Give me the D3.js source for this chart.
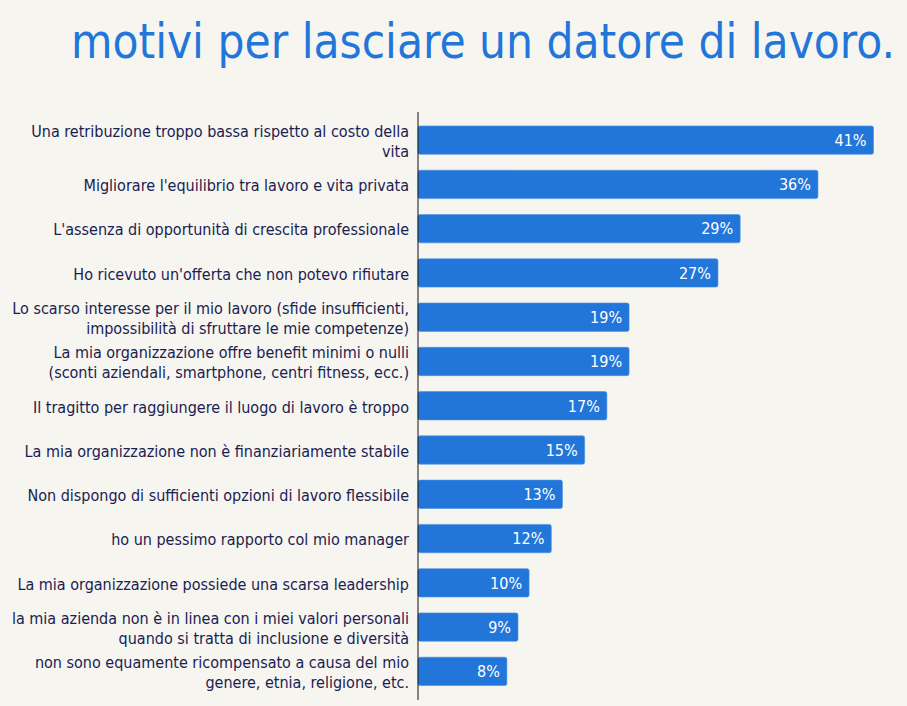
<!DOCTYPE html>
<html>
<head>
<meta charset="utf-8">
<script src="https://cdn.jsdelivr.net/npm/d3@7"></script>
<style>
  html, body { margin: 0; padding: 0; background: #f6f5f0; }
  svg { display: block; }
</style>
</head>
<body>
<div id="chart"></div>
<script>
// categories, top to bottom (line breaks as in the picture)
var categories = [
    "Una retribuzione troppo bassa rispetto al costo della|vita",
    "Migliorare l'equilibrio tra lavoro e vita privata",
    "L'assenza di opportunità di crescita professionale",
    "Ho ricevuto un'offerta che non potevo rifiutare",
    "Lo scarso interesse per il mio lavoro (sfide insufficienti,|impossibilità di sfruttare le mie competenze)",
    "La mia organizzazione offre benefit minimi o nulli|(sconti aziendali, smartphone, centri fitness, ecc.)",
    "Il tragitto per raggiungere il luogo di lavoro è troppo",
    "La mia organizzazione non è finanziariamente stabile",
    "Non dispongo di sufficienti opzioni di lavoro flessibile",
    "ho un pessimo rapporto col mio manager",
    "La mia organizzazione possiede una scarsa leadership",
    "la mia azienda non è in linea con i miei valori personali|quando si tratta di inclusione e diversità",
    "non sono equamente ricompensato a causa del mio|genere, etnia, religione, etc."
];
var values = [41, 36, 29, 27, 19, 19, 17, 15, 13, 12, 10, 9, 8];
var title = "motivi per lasciare un datore di lavoro.";

var width = 907, height = 706;
var barColor = "#2376d9";
var textColor = "#1a2150";
var font = "'DejaVu Sans Condensed', 'DejaVu Sans', sans-serif";

var svg = d3.select("#chart")
    .append("svg")
    .attr("width", width)
    .attr("height", height);

svg.append("rect")
    .attr("width", width)
    .attr("height", height)
    .attr("fill", "#f6f5f0");

// title
svg.append("text")
    .attr("x", 71)
    .attr("y", 58)
    .attr("fill", barColor)
    .attr("font-family", font)
    .attr("font-size", 48)
    .attr("textLength", 824)
    .attr("lengthAdjust", "spacingAndGlyphs")
    .text(title);

var x = d3.scaleLinear()
    .domain([0, 41])
    .range([418, 873.5]);

var y = d3.scaleBand()
    .domain(d3.range(categories.length))
    .range([118, 693.5])
    .paddingInner(0.36)
    .paddingOuter(0.18);

// bars
svg.selectAll("rect.bar")
    .data(values)
    .enter()
    .append("rect")
    .attr("class", "bar")
    .attr("x", x(0))
    .attr("y", function(d, i) { return y(i); })
    .attr("width", function(d) { return x(d) - x(0); })
    .attr("height", y.bandwidth())
    .attr("rx", 2)
    .attr("fill", barColor)
    .attr("stroke", "#4a8fe0")
    .attr("stroke-width", 0.6);

// value labels
svg.selectAll("text.val")
    .data(values)
    .enter()
    .append("text")
    .attr("class", "val")
    .attr("x", function(d) { return x(d) - 7; })
    .attr("y", function(d, i) { return y(i) + y.bandwidth() / 2; })
    .attr("dy", "0.36em")
    .attr("text-anchor", "end")
    .attr("fill", "#ffffff")
    .attr("font-family", font)
    .attr("font-size", 16)
    .text(function(d) { return d + "%"; });

// category labels
var labels = svg.selectAll("text.cat")
    .data(categories)
    .enter()
    .append("text")
    .attr("class", "cat")
    .attr("text-anchor", "end")
    .attr("fill", textColor)
    .attr("font-family", font)
    .attr("font-size", 16)
    .attr("transform", function(d, i) {
        return "translate(409," + (y(i) + y.bandwidth() / 2) + ")";
    });

labels.each(function(d) {
    var lines = d.split("|");
    var el = d3.select(this);
    var lh = 20;
    var off = -(lines.length - 1) * lh / 2 + 1;
    lines.forEach(function(line, k) {
        el.append("tspan")
            .attr("x", 0)
            .attr("y", off + k * lh)
            .attr("dy", "0.36em")
            .text(line);
    });
});

// axis line
svg.append("line")
    .attr("x1", x(0))
    .attr("x2", x(0))
    .attr("y1", 112)
    .attr("y2", 700)
    .attr("stroke", "#111")
    .attr("stroke-width", 1);
</script>
</body>
</html>
